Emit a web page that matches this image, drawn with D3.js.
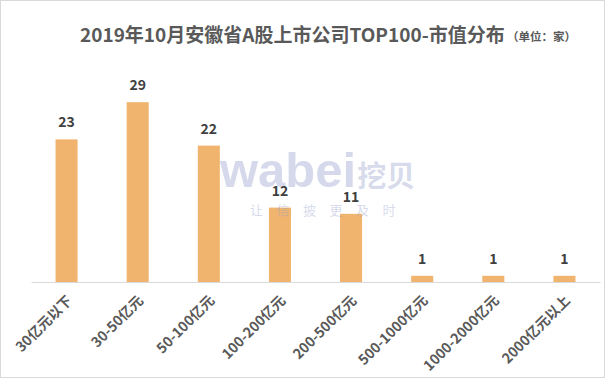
<!DOCTYPE html>
<html>
<head>
<meta charset="utf-8">
<script src="https://d3js.org/d3.v7.min.js"></script>
<style>
  body { margin: 0; background: #fff; }
  text { font-family: "Noto Sans CJK SC", "Microsoft YaHei", sans-serif; }
</style>
</head>
<body>
<svg id="chart" width="605" height="378"></svg>
<script>
const categories = ["30亿元以下", "30-50亿元", "50-100亿元", "100-200亿元", "200-500亿元", "500-1000亿元", "1000-2000亿元", "2000亿元以上"];
const counts = [23, 29, 22, 12, 11, 1, 1, 1];
const titleText = "2019年10月安徽省A股上市公司TOP100-市值分布";
const unitText = "（单位：家）";

const svg = d3.select("#chart");
const width = +svg.attr("width");
const height = +svg.attr("height");
const margin = { top: 65, right: 5, bottom: 96, left: 31 };

// outer frame
svg.append("rect")
    .attr("x", 0.5).attr("y", 0.5)
    .attr("width", width - 1).attr("height", height - 1)
    .attr("fill", "#fff").attr("stroke", "#d9d9d9");

const x = d3.scaleBand()
    .domain(categories)
    .range([margin.left, width - margin.right])
    .paddingInner(0.69).paddingOuter(0.345);

const y = d3.scaleLinear()
    .domain([0, 35])
    .range([height - margin.bottom, margin.top]);

// title
svg.append("text")
    .attr("x", 80).attr("y", 42)
    .attr("font-size", 19).attr("font-weight", "bold")
    .attr("fill", "#595959")
    .text(titleText);
svg.append("text")
    .attr("x", 507).attr("y", 41)
    .attr("font-size", 11.5).attr("font-weight", "bold")
    .attr("fill", "#595959")
    .text(unitText);

// bars
svg.append("g").selectAll("rect").data(counts).join("rect")
    .attr("x", (d, i) => x(categories[i]))
    .attr("y", d => y(d))
    .attr("width", x.bandwidth())
    .attr("height", d => y(0) - y(d))
    .attr("fill", "#f0b46e");

// watermark
const wm = svg.append("g").attr("fill", "#96a0cc").attr("fill-opacity", 0.4);
const wmText = wm.append("text")
    .attr("x", 220).attr("y", 187)
    .attr("font-weight", "bold");
wmText.append("tspan")
    .attr("font-size", 49)
    .attr("font-family", "'Liberation Sans', Arial, sans-serif")
    .text("wabei");
wmText.append("tspan")
    .attr("font-size", 29)
    .attr("dx", 1)
    .text("挖贝");
wm.append("text")
    .attr("x", 250).attr("y", 215)
    .attr("font-size", 13)
    .attr("letter-spacing", 13.5)
    .text("让信披更及时");

// value labels
svg.append("g").selectAll("text").data(counts).join("text")
    .attr("x", (d, i) => x(categories[i]) + x.bandwidth() / 2)
    .attr("y", d => y(d) - 12)
    .attr("text-anchor", "middle")
    .attr("font-size", 14).attr("font-weight", "bold")
    .attr("fill", "#404040")
    .text(d => d);

// x axis
const xAxis = svg.append("g")
    .attr("transform", `translate(0,${height - margin.bottom})`)
    .call(d3.axisBottom(x).tickSize(0).tickPadding(0));
xAxis.select(".domain").attr("stroke", "#d9d9d9").attr("stroke-width", 1.2);
xAxis.selectAll("text")
    .attr("font-size", 14).attr("font-weight", "bold")
    .attr("fill", "#595959")
    .attr("text-anchor", "end")
    .attr("dy", "0.35em")
    .attr("transform", "translate(3,16) rotate(-45)");
</script>
</body>
</html>
